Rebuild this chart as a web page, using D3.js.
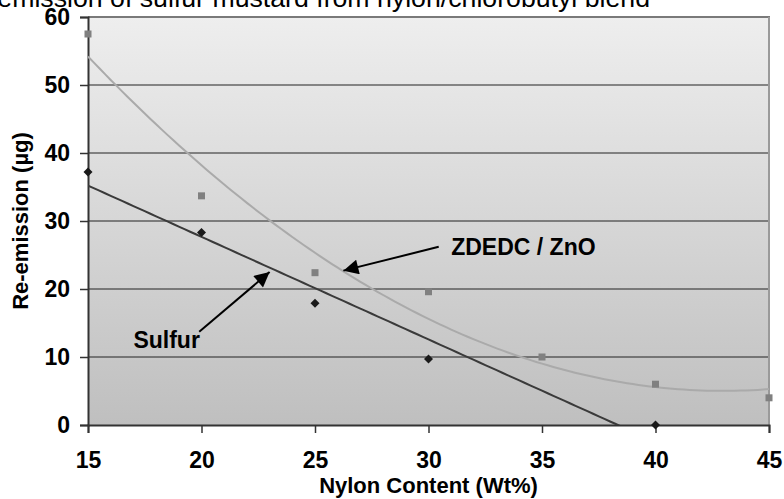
<!DOCTYPE html>
<html>
<head>
<meta charset="utf-8">
<script src="https://cdn.jsdelivr.net/npm/d3@7"></script>
<style>
  html, body { margin: 0; padding: 0; background: #fff; }
  svg { display: block; font-family: "Liberation Sans", Arial, sans-serif; }
</style>
</head>
<body>
<svg id="chart" width="784" height="499"></svg>
<script>
// nylon content (Wt%) and re-emission (µg)
const sulfurX = [15, 20, 25, 30, 40];
const sulfurY = [37.2, 28.3, 17.9, 9.7, 0];
const zdedcX = [15, 20, 25, 30, 35, 40, 45];
const zdedcY = [57.5, 33.7, 22.4, 19.6, 10.0, 6.0, 4.0];
const xTicks = [15, 20, 25, 30, 35, 40, 45];
const yTicks = [0, 10, 20, 30, 40, 50, 60];

const plotL = 88, plotR = 769, plotT = 17, plotB = 425;

const svg = d3.select("#chart");

const x = d3.scaleLinear().domain([15, 45]).range([plotL, plotR]);
const y = d3.scaleLinear().domain([0, 60]).range([plotB, plotT]);

// plot background gradient
const defs = svg.append("defs");
const grad = defs.append("linearGradient")
  .attr("id", "bg").attr("x1", 0).attr("y1", 0).attr("x2", 0).attr("y2", 1);
grad.append("stop").attr("offset", "0%").attr("stop-color", "#eeeeee");
grad.append("stop").attr("offset", "100%").attr("stop-color", "#bfbfbf");

defs.append("marker")
  .attr("id", "arrow")
  .attr("viewBox", "0 0 10 10")
  .attr("refX", 10).attr("refY", 5)
  .attr("markerUnits", "userSpaceOnUse")
  .attr("markerWidth", 18).attr("markerHeight", 15)
  .attr("orient", "auto")
  .append("path")
  .attr("d", "M0,0 L10,5 L0,10 Z")
  .attr("fill", "#000");

defs.append("clipPath").attr("id", "plotclip")
  .append("rect")
  .attr("x", plotL).attr("y", plotT)
  .attr("width", plotR - plotL).attr("height", plotB - plotT);

svg.append("rect")
  .attr("x", plotL).attr("y", plotT)
  .attr("width", plotR - plotL).attr("height", plotB - plotT)
  .attr("fill", "url(#bg)");

// title (cut off at the top of the picture)
svg.append("text")
  .attr("x", 650).attr("y", 7)
  .attr("text-anchor", "end")
  .style("font-size", "26.7px")
  .attr("fill", "#000")
  .text("Re-emission of sulfur mustard from nylon/chlorobutyl blend");

// gridlines
svg.append("g")
  .selectAll("line")
  .data(yTicks.filter(d => d > 0 && d < 60))
  .enter().append("line")
  .attr("x1", plotL).attr("x2", plotR)
  .attr("y1", d => y(d)).attr("y2", d => y(d))
  .attr("stroke", "#222").attr("stroke-width", 1);

// plot border top/right
svg.append("line")
  .attr("x1", plotL).attr("x2", plotR + 1)
  .attr("y1", plotT).attr("y2", plotT)
  .attr("stroke", "#7a7a7a").attr("stroke-width", 2);
svg.append("line")
  .attr("x1", plotR).attr("x2", plotR)
  .attr("y1", plotT).attr("y2", plotB)
  .attr("stroke", "#9a9a9a").attr("stroke-width", 2);

// axes
const yAxis = svg.append("g")
  .attr("transform", `translate(${plotL},0)`)
  .call(d3.axisLeft(y).tickValues(yTicks).tickSize(8).tickPadding(10));
const xAxis = svg.append("g")
  .attr("transform", `translate(0,${plotB})`)
  .call(d3.axisBottom(x).tickValues(xTicks).tickSize(8).tickPadding(19));

[yAxis, xAxis].forEach(a => {
  a.select(".domain").attr("stroke", "#333").attr("stroke-width", 2);
  a.selectAll(".tick line").attr("stroke", "#333").attr("stroke-width", 1.5);
  a.selectAll(".tick text")
    .attr("fill", "#000")
    .style("font-family", "'Liberation Sans', Arial, sans-serif")
    .style("font-size", "23px")
    .style("font-weight", "bold");
});

// axis titles
svg.append("text")
  .attr("x", x(30)).attr("y", 493)
  .attr("text-anchor", "middle")
  .style("font-size", "22px").style("font-weight", "bold")
  .text("Nylon Content (Wt%)");

svg.append("text")
  .attr("transform", `translate(28,${(plotT + plotB) / 2}) rotate(-90)`)
  .attr("text-anchor", "middle")
  .style("font-size", "22px").style("font-weight", "bold")
  .text("Re-emission (µg)");

// trend lines
function linFit(xs, ys) {
  const mx = d3.mean(xs), my = d3.mean(ys);
  const sxy = d3.sum(xs, (v, i) => (v - mx) * (ys[i] - my));
  const sxx = d3.sum(xs, v => (v - mx) * (v - mx));
  const b = sxy / sxx;
  return v => my + b * (v - mx);
}
function quadFit(xs, ys) {
  // normal equations for y = a + b x + c x^2
  const s = k => d3.sum(xs, v => Math.pow(v, k));
  const t = k => d3.sum(xs, (v, i) => Math.pow(v, k) * ys[i]);
  const M = [[s(0), s(1), s(2)], [s(1), s(2), s(3)], [s(2), s(3), s(4)]];
  const r = [t(0), t(1), t(2)];
  const det = m => m[0][0] * (m[1][1] * m[2][2] - m[1][2] * m[2][1])
    - m[0][1] * (m[1][0] * m[2][2] - m[1][2] * m[2][0])
    + m[0][2] * (m[1][0] * m[2][1] - m[1][1] * m[2][0]);
  const D = det(M);
  const coef = [0, 1, 2].map(c => det(M.map((row, i) => row.map((v, j) => j === c ? r[i] : v))) / D);
  return v => coef[0] + coef[1] * v + coef[2] * v * v;
}

const sulfurFit = linFit(sulfurX, sulfurY);
const zdedcFit = quadFit(zdedcX, zdedcY);
const xs = d3.range(15, 45.01, 0.25);

const plot = svg.append("g").attr("clip-path", "url(#plotclip)");

plot.append("path")
  .datum(xs)
  .attr("fill", "none")
  .attr("stroke", "#aaaaaa").attr("stroke-width", 2)
  .attr("d", d3.line().x(d => x(d)).y(d => y(zdedcFit(d))));

plot.append("path")
  .datum(xs)
  .attr("fill", "none")
  .attr("stroke", "#3a3a3a").attr("stroke-width", 2)
  .attr("d", d3.line().x(d => x(d)).y(d => y(Math.max(sulfurFit(d), -1))));

// markers
svg.append("g")
  .selectAll("rect")
  .data(zdedcX)
  .enter().append("rect")
  .attr("x", (d, i) => x(d) - 3.5)
  .attr("y", (d, i) => y(zdedcY[i]) - 3.5)
  .attr("width", 7).attr("height", 7)
  .attr("fill", "#808080");

svg.append("g")
  .selectAll("path")
  .data(sulfurX)
  .enter().append("path")
  .attr("transform", (d, i) => `translate(${x(d)},${y(sulfurY[i])})`)
  .attr("d", "M0,-4.5 L4.5,0 L0,4.5 L-4.5,0 Z")
  .attr("fill", "#1a1a1a");

// annotations
const notes = [
  { label: "ZDEDC / ZnO", tx: 31.0, ty: 25.0, x1: 30.45, y1: 26.2, x2: 26.25, y2: 22.7 },
  { label: "Sulfur", tx: 17.0, ty: 11.3, x1: 19.9, y1: 13.7, x2: 23.0, y2: 22.5 }
];

svg.append("g")
  .selectAll("line")
  .data(notes)
  .enter().append("line")
  .attr("x1", d => x(d.x1)).attr("y1", d => y(d.y1))
  .attr("x2", d => x(d.x2)).attr("y2", d => y(d.y2))
  .attr("stroke", "#000").attr("stroke-width", 2)
  .attr("marker-end", "url(#arrow)");

svg.append("g")
  .selectAll("text")
  .data(notes)
  .enter().append("text")
  .attr("x", d => x(d.tx)).attr("y", d => y(d.ty))
  .style("font-size", "23px").style("font-weight", "bold")
  .text(d => d.label);
</script>
</body>
</html>
